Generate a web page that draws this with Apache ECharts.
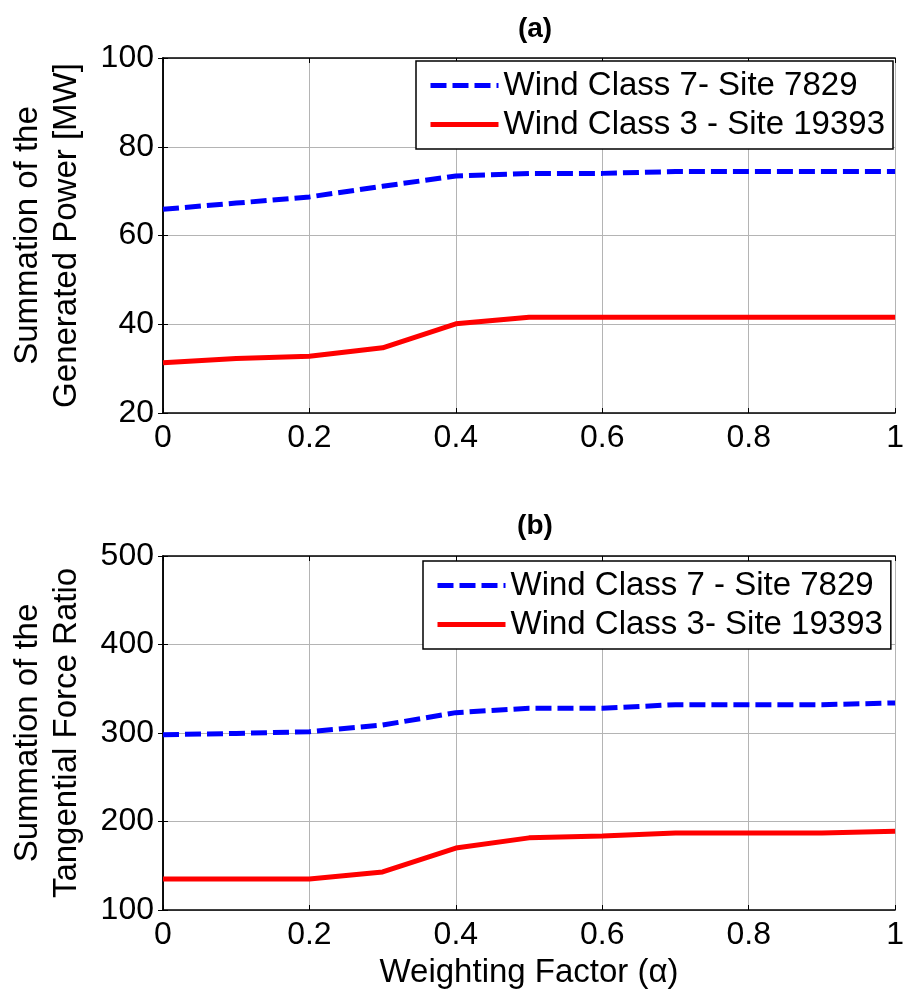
<!DOCTYPE html>
<html><head><meta charset="utf-8">
<script src="https://cdn.jsdelivr.net/npm/echarts@6/dist/echarts.min.js"></script>
<style>html,body{margin:0;padding:0;background:#fff;overflow:hidden}#c{width:907px;height:991px}</style>
</head><body><div id="c"></div>
<script>
const xValues = [0, 0.1, 0.2, 0.3, 0.4, 0.5, 0.6, 0.7, 0.8, 0.9, 1.0];
const powerClass7 = [65.9, 67.3, 68.7, 71.1, 73.4, 74.0, 74.0, 74.4, 74.4, 74.4, 74.4];
const powerClass3 = [31.3, 32.3, 32.8, 34.7, 40.1, 41.6, 41.6, 41.6, 41.6, 41.6, 41.6];
const forceClass7 = [298, 299.5, 301.5, 309, 323, 328, 328, 332, 332, 332, 334];
const forceClass3 = [135, 135, 135, 143, 170, 181.5, 183.5, 187, 187, 187, 189];
const namesA = ['Wind Class 7- Site 7829', 'Wind Class 3 - Site 19393'];
const namesB = ['Wind Class 7 - Site 7829', 'Wind Class 3- Site 19393'];
const titles = ['(a)', '(b)'];

const FONT = 'Liberation Sans, Arial, sans-serif';
const pairs = (ys) => xValues.map((x, i) => [x, ys[i]]);
const chart = echarts.init(document.getElementById('c'));

function xAxisDef(gi, showLabel, name) {
  return [{
    type: 'value', gridIndex: gi, min: 0, max: 1, interval: 0.2, position: 'bottom',
    axisLine: { show: true, lineStyle: { color: '#000', width: 1.5 } },
    axisTick: { show: true, inside: true, length: 5, lineStyle: { color: '#000' } },
    axisLabel: { show: showLabel, color: '#000', fontSize: 32, fontFamily: FONT, margin: 9,
      formatter: v => (v === 0 || v === 1) ? String(v) : String(+v.toFixed(1)) },
    splitLine: { show: true, lineStyle: { color: '#b4b4b4', width: 1 } },
    name: name, nameLocation: 'middle', nameGap: 46,
    nameTextStyle: { color: '#000', fontSize: 33, fontFamily: FONT }
  }, {
    type: 'value', gridIndex: gi, min: 0, max: 1, interval: 0.2, position: 'top',
    axisLine: { show: true, lineStyle: { color: '#000', width: 1.5 } },
    axisTick: { show: true, inside: true, length: 5, lineStyle: { color: '#000' } },
    axisLabel: { show: false }, splitLine: { show: false }
  }];
}
function yAxisDef(gi, min, max, interval, name) {
  return [{
    type: 'value', gridIndex: gi, min: min, max: max, interval: interval, position: 'left',
    axisLine: { show: true, lineStyle: { color: '#000', width: 1.5 } },
    axisTick: { show: true, inside: true, length: 5, lineStyle: { color: '#000' } },
    axisLabel: { color: '#000', fontSize: 32, fontFamily: FONT, margin: 9 },
    splitLine: { show: true, lineStyle: { color: '#b4b4b4', width: 1 } },
    name: name, nameLocation: 'middle', nameGap: 77,
    nameTextStyle: { color: '#000', fontSize: 33, fontFamily: FONT, lineHeight: 39 }
  }, {
    type: 'value', gridIndex: gi, min: min, max: max, interval: interval, position: 'right',
    axisLine: { show: true, lineStyle: { color: '#000', width: 1.5 } },
    axisTick: { show: true, inside: true, length: 5, lineStyle: { color: '#000' } },
    axisLabel: { show: false }, splitLine: { show: false }
  }];
}
function legendDef(top, left, names) {
  return {
    data: names, orient: 'vertical', top: top, left: left,
    backgroundColor: '#fff', borderColor: '#000', borderWidth: 1.5, borderRadius: 0,
    padding: [8, 8, 8, 12], itemGap: 6, itemWidth: 68, itemHeight: 20,
    itemStyle: { opacity: 0 }, lineStyle: { width: 5 },
    textStyle: { color: '#000', fontSize: 33, fontFamily: FONT, padding: [0, 0, 0, 0] }
  };
}
const blueStyle = { color: '#0000ff', width: 5, type: [16, 6] };
const redStyle = { color: '#ff0000', width: 5, type: 'solid' };
function line(name, data, xi, yi, style) {
  return { name: name, type: 'line', xAxisIndex: xi, yAxisIndex: yi, data: data,
    symbol: 'none', lineStyle: style, itemStyle: { color: style.color }, z: 3, animation: false };
}

chart.setOption({
  backgroundColor: '#fff',
  animation: false,
  title: [
    { text: titles[0], left: 530, top: 10, textAlign: 'center',
      textStyle: { fontSize: 28, fontWeight: 'bold', fontFamily: FONT, color: '#000' } },
    { text: titles[1], left: 530, top: 507, textAlign: 'center',
      textStyle: { fontSize: 28, fontWeight: 'bold', fontFamily: FONT, color: '#000' } }
  ],
  grid: [
    { left: 157, top: 58, width: 746, height: 355, show: true, borderWidth: 0, backgroundColor: '#fff' },
    { left: 157, top: 556, width: 746, height: 354, show: true, borderWidth: 0, backgroundColor: '#fff' }
  ],
  xAxis: [...xAxisDef(0, true, ''), ...xAxisDef(1, true, 'Weighting Factor (\u03b1)')],
  yAxis: [...yAxisDef(0, 20, 100, 20, 'Summation of the\nGenerated Power [MW]'),
          ...yAxisDef(1, 100, 500, 100, 'Summation of the\nTangential Force Ratio')],
  legend: [legendDef(61, 416, namesA), legendDef(561, 423, namesB)],
  series: [
    line(namesA[0], pairs(powerClass7), 0, 0, blueStyle),
    line(namesA[1], pairs(powerClass3), 0, 0, redStyle),
    line(namesB[0], pairs(forceClass7), 2, 2, blueStyle),
    line(namesB[1], pairs(forceClass3), 2, 2, redStyle)
  ]
});
</script></body></html>
